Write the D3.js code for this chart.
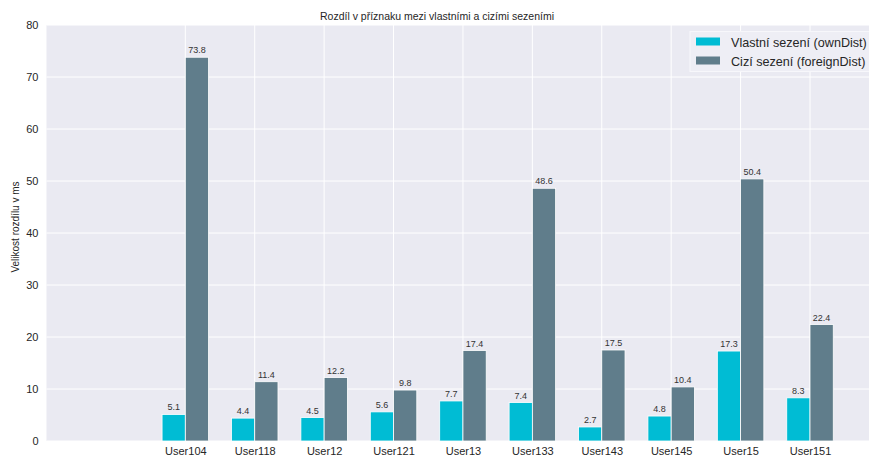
<!DOCTYPE html>
<html>
<head>
<meta charset="utf-8">
<script src="https://cdn.jsdelivr.net/npm/d3@7"></script>
<style>
  html, body { margin: 0; padding: 0; background: #ffffff; }
  svg { display: block; font-family: "Liberation Sans", Arial, sans-serif; }
</style>
</head>
<body>
<svg id="chart" width="869" height="457"></svg>
<script>
// Users and per-user feature differences (ms)
const users = ["User104", "User118", "User12", "User121", "User13", "User133", "User143", "User145", "User15", "User151"];
const ownDist = [5.1, 4.4, 4.5, 5.6, 7.7, 7.4, 2.7, 4.8, 17.3, 8.3];
const foreignDist = [73.8, 11.4, 12.2, 9.8, 17.4, 48.6, 17.5, 10.4, 50.4, 22.4];
const yTicks = [0, 10, 20, 30, 40, 50, 60, 70, 80];
const seriesNames = ["Vlastní sezení (ownDist)", "Cizí sezení (foreignDist)"];
const seriesColors = ["#00bcd4", "#607d8b"];

const svg = d3.select("#chart");
const plot = { left: 46.5, right: 869, top: 25, bottom: 441 };

// Category index positions; axis extends past the first and last user
const x = d3.scaleLinear().domain([-2, 9.85]).range([plot.left, plot.right]);
const y = d3.scaleLinear().domain([0, 80]).range([plot.bottom, plot.top]);
const barW = 0.335; // in category units

// Background
svg.append("rect")
  .attr("x", plot.left).attr("y", plot.top)
  .attr("width", plot.right - plot.left).attr("height", plot.bottom - plot.top)
  .attr("fill", "#eaeaf2");

// Grid
const grid = svg.append("g");
grid.selectAll("line.h").data(yTicks).join("line")
  .attr("x1", plot.left).attr("x2", plot.right)
  .attr("y1", d => y(d)).attr("y2", d => y(d))
  .attr("stroke", "#ffffff").attr("stroke-width", 1);
grid.selectAll("line.v").data(users.map((u, i) => i)).join("line")
  .attr("x1", d => x(d)).attr("x2", d => x(d))
  .attr("y1", plot.top).attr("y2", plot.bottom)
  .attr("stroke", "#ffffff").attr("stroke-width", 1);

// Bars
const series = [ownDist, foreignDist];
series.forEach((vals, s) => {
  const off = s === 0 ? -barW : 0;
  const g = svg.append("g");
  g.selectAll("rect").data(vals).join("rect")
    .attr("x", (d, i) => x(i + off))
    .attr("y", d => y(d))
    .attr("width", x(barW) - x(0))
    .attr("height", d => y(0) - y(d))
    .attr("fill", seriesColors[s])
    .attr("stroke", "#ffffff").attr("stroke-width", 0.8);
  g.selectAll("text").data(vals).join("text")
    .attr("x", (d, i) => x(i + off + barW / 2))
    .attr("y", d => y(d) - 4)
    .attr("text-anchor", "middle")
    .attr("font-size", 9)
    .attr("fill", "#333333")
    .text(d => d.toFixed(1));
});

// Y axis labels
const yAxis = d3.axisLeft(y).tickValues(yTicks).tickSize(0).tickPadding(8);
const yg = svg.append("g").attr("transform", `translate(${plot.left},0)`).call(yAxis);
yg.select(".domain").remove();
yg.selectAll("text").attr("font-size", 11).attr("fill", "#262626")
  .attr("font-family", "Liberation Sans, Arial, sans-serif");

// X axis labels
const xAxis = d3.axisBottom(x).tickValues(users.map((u, i) => i)).tickFormat(i => users[i]).tickSize(0).tickPadding(6);
const xg = svg.append("g").attr("transform", `translate(0,${plot.bottom})`).call(xAxis);
xg.select(".domain").remove();
xg.selectAll("text").attr("font-size", 11).attr("fill", "#262626")
  .attr("font-family", "Liberation Sans, Arial, sans-serif");

// Title
svg.append("text")
  .attr("x", 437).attr("y", 20)
  .attr("text-anchor", "middle")
  .attr("font-size", 10.5).attr("fill", "#262626")
  .text("Rozdíl v příznaku mezi vlastními a cizími sezeními");

// Y label
svg.append("text")
  .attr("transform", `translate(19,${(plot.top + plot.bottom) / 2 - 6}) rotate(-90)`)
  .attr("text-anchor", "middle")
  .attr("font-size", 10).attr("fill", "#262626")
  .text("Velikost rozdílu v ms");

// Legend
const lg = svg.append("g");
lg.append("rect")
  .attr("x", 690).attr("y", 31.5).attr("width", 185).attr("height", 40)
  .attr("fill", "#eeeef5").attr("stroke", "#f7f7fb").attr("stroke-width", 1);
seriesNames.forEach((name, i) => {
  lg.append("rect")
    .attr("x", 696).attr("y", 37.5 + i * 19).attr("width", 24).attr("height", 8)
    .attr("fill", seriesColors[i]);
  lg.append("text")
    .attr("x", 731).attr("y", 46.5 + i * 19)
    .attr("font-size", 12.6).attr("fill", "#262626")
    .text(name);
});
</script>
</body>
</html>
